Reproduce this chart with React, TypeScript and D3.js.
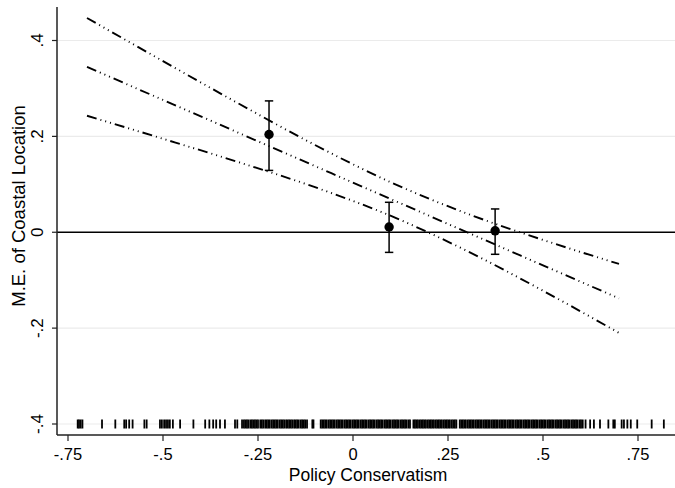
import React from "react";
import * as d3 from "d3";

const W = 675;
const H = 488;

// Marginal effect lines (estimate and 95% CI), read at these moderator values
const lineX = [-0.7, -0.5, -0.3, -0.1, 0.1, 0.3, 0.5, 0.7];
const estimate = [0.345, 0.276, 0.207, 0.138, 0.069, 0.0, -0.069, -0.138];
const upperCI = [0.447, 0.357, 0.268, 0.182, 0.104, 0.039, -0.016, -0.066];
const lowerCI = [0.243, 0.195, 0.146, 0.094, 0.034, -0.039, -0.122, -0.21];

// Binned estimates
const binX = [-0.221, 0.095, 0.374];
const binY = [0.204, 0.011, 0.003];
const binLo = [0.129, -0.042, -0.046];
const binHi = [0.274, 0.0625, 0.0486];

const xTicks = [-0.75, -0.5, -0.25, 0, 0.25, 0.5, 0.75];
const xTickLabels = ["-.75", "-.5", "-.25", "0", ".25", ".5", ".75"];
const yTicks = [-0.4, -0.2, 0, 0.2, 0.4];
const yTickLabels = ["-.4", "-.2", "0", ".2", ".4"];

// Rug of observed moderator values
const rug = [
  -0.7245, -0.721, -0.7166, -0.712, -0.6605, -0.6255, -0.602, -0.597, -0.589, -0.58,
  -0.549, -0.543, -0.508, -0.503, -0.497, -0.492, -0.487, -0.482, -0.474, -0.455,
  -0.42, -0.389, -0.378, -0.368, -0.36, -0.35, -0.337, -0.3105, -0.3045,
  -0.292, -0.287, -0.283, -0.279, -0.275, -0.27, -0.266, -0.262, -0.258, -0.254, -0.25,
  -0.244, -0.24, -0.236, -0.231, -0.227, -0.223, -0.219, -0.214, -0.21, -0.206, -0.202,
  -0.198, -0.193, -0.189, -0.185, -0.181, -0.176, -0.172, -0.168, -0.164, -0.16, -0.155,
  -0.151, -0.147, -0.143, -0.138, -0.134, -0.13, -0.126, -0.121, -0.107, -0.104,
  -0.085, -0.081, -0.077, -0.073, -0.069, -0.064, -0.06, -0.056, -0.052, -0.048, -0.043,
  -0.039, -0.035, -0.031, -0.027, -0.022, -0.018, -0.014, -0.01, -0.006, -0.001, 0.003,
  0.007, 0.011, 0.015, 0.02, 0.024, 0.028, 0.032, 0.036, 0.041, 0.045, 0.049, 0.053,
  0.057, 0.062, 0.066, 0.07, 0.074, 0.078, 0.083, 0.087, 0.091, 0.095, 0.099, 0.104,
  0.108, 0.112, 0.116, 0.12, 0.125, 0.129, 0.133, 0.137, 0.141, 0.146, 0.15, 0.159,
  0.163, 0.167, 0.171, 0.176, 0.18, 0.184, 0.188, 0.192, 0.197, 0.201, 0.205, 0.209,
  0.213, 0.218, 0.222, 0.226, 0.23, 0.234, 0.239, 0.243, 0.247, 0.251, 0.255, 0.26,
  0.264, 0.268, 0.272, 0.281, 0.285, 0.289, 0.293, 0.297, 0.302, 0.306, 0.31, 0.314,
  0.318, 0.323, 0.327, 0.331, 0.335, 0.339, 0.344, 0.348, 0.352, 0.356, 0.36, 0.365,
  0.369, 0.373, 0.377, 0.381, 0.386, 0.39, 0.394, 0.398, 0.402, 0.407, 0.411, 0.415,
  0.419, 0.423, 0.428, 0.432, 0.436, 0.44, 0.444, 0.449, 0.453, 0.457, 0.461, 0.465,
  0.47, 0.474, 0.478, 0.482, 0.486, 0.491, 0.495, 0.499, 0.503, 0.507, 0.512, 0.516,
  0.52, 0.524, 0.528, 0.533, 0.537, 0.541, 0.545, 0.549, 0.554, 0.558, 0.562, 0.566,
  0.57, 0.575, 0.579, 0.583, 0.587, 0.591, 0.596, 0.6,
  0.6045, 0.612, 0.624, 0.634, 0.65, 0.672, 0.685, 0.689, 0.707, 0.713, 0.722, 0.731,
  0.748, 0.786, 0.818,
];

const FONT = "'Liberation Sans', Arial, Helvetica, sans-serif";

export default function App() {
  const left = 57;
  const right = 675;
  const top = 7;
  const bottom = 435;

  const x = d3.scaleLinear().domain([-0.75, 0.75]).range([68, 638]);
  const y = d3.scaleLinear().domain([-0.4, 0.4]).range([424, 40.5]);

  const line = d3
    .line<[number, number]>()
    .x((d) => x(d[0]))
    .y((d) => y(d[1]))
    .curve(d3.curveMonotoneX);

  const series = [upperCI, estimate, lowerCI];
  const dash = "10,4,1,4,1,4,1,4";

  return (
    <svg width={W} height={H} style={{ display: "block", position: "absolute", left: 0, top: 0 }}>
      <rect width={W} height={H} fill="#fff" />
      {/* gridlines */}
      {yTicks
        .filter((t) => t !== 0)
        .map((t) => (
          <line key={"g" + t} x1={left} x2={right} y1={y(t)} y2={y(t)} stroke="#ebebeb" strokeWidth={1.2} />
        ))}
      {/* rug */}
      {rug.map((v, i) => (
        <line key={"r" + i} x1={x(v)} x2={x(v)} y1={y(-0.4) - 4.5} y2={y(-0.4) + 4.5} stroke="#000" strokeWidth={1.8} />
      ))}
      {/* zero line */}
      <line x1={left} x2={right} y1={y(0)} y2={y(0)} stroke="#000" strokeWidth={1.5} />
      {/* CI and estimate lines */}
      {series.map((s, k) => (
        <path
          key={"l" + k}
          d={line(lineX.map((xv, i) => [xv, s[i]] as [number, number])) || ""}
          fill="none"
          stroke="#000"
          strokeWidth={1.9}
          strokeDasharray={dash}
        />
      ))}
      {/* binned estimates */}
      {binX.map((bx, i) => (
        <g key={"b" + i}>
          <line x1={x(bx)} x2={x(bx)} y1={y(binLo[i])} y2={y(binHi[i])} stroke="#000" strokeWidth={1.5} />
          <line x1={x(bx) - 4.2} x2={x(bx) + 4.2} y1={y(binLo[i])} y2={y(binLo[i])} stroke="#000" strokeWidth={1.5} />
          <line x1={x(bx) - 4.2} x2={x(bx) + 4.2} y1={y(binHi[i])} y2={y(binHi[i])} stroke="#000" strokeWidth={1.5} />
          <circle cx={x(bx)} cy={y(binY[i])} r={4.7} fill="#000" />
        </g>
      ))}
      {/* axes */}
      <line x1={left} x2={left} y1={top} y2={bottom} stroke="#222" strokeWidth={1.5} />
      <line x1={left} x2={right} y1={bottom} y2={bottom} stroke="#222" strokeWidth={1.5} />
      {yTicks.map((t, i) => (
        <g key={"yt" + t}>
          <line x1={left - 5} x2={left} y1={y(t)} y2={y(t)} stroke="#222" strokeWidth={1.2} />
          <text
            transform={`translate(43,${y(t)}) rotate(-90)`}
            textAnchor="middle"
            fontFamily={FONT}
            fontSize={17}
            fill="#000"
          >
            {yTickLabels[i]}
          </text>
        </g>
      ))}
      {xTicks.map((t, i) => (
        <g key={"xt" + t}>
          <line x1={x(t)} x2={x(t)} y1={bottom} y2={bottom + 6} stroke="#222" strokeWidth={1.2} />
          <text x={x(t)} y={459.5} textAnchor="middle" fontFamily={FONT} fontSize={16.5} fill="#000">
            {xTickLabels[i]}
          </text>
        </g>
      ))}
      <text x={368} y={481} textAnchor="middle" fontFamily={FONT} fontSize={17.5} fill="#000">
        Policy Conservatism
      </text>
      <text
        transform={`translate(25,206) rotate(-90)`}
        textAnchor="middle"
        fontFamily={FONT}
        fontSize={18.5}
        fill="#000"
      >
        M.E. of Coastal Location
      </text>
    </svg>
  );
}
